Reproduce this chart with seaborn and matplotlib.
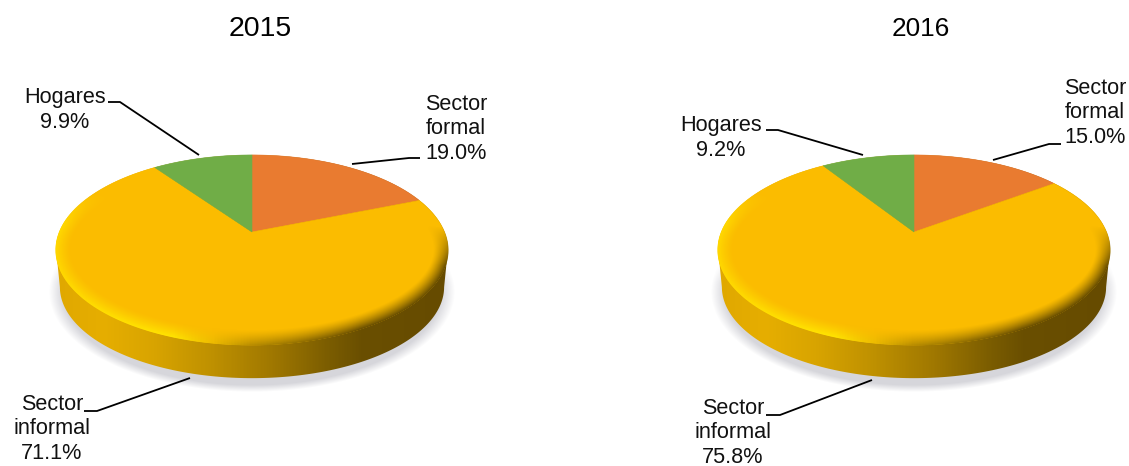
import numpy as np
import matplotlib
matplotlib.use('Agg')
import matplotlib.pyplot as plt
from matplotlib.colors import LinearSegmentedColormap
from matplotlib.patches import Polygon
import seaborn as sns

# --- data ---
years = ['2015', '2016']
categories = ['Sector\nformal', 'Sector\ninformal', 'Hogares']
shares_2015 = [19.0, 71.1, 9.9]
shares_2016 = [15.0, 75.8, 9.2]
slice_colors = ['#E97B30', '#FBBC00', '#70AD47']

# --- layout, in pixels of the 1129x466 picture ---
centers_x = [252, 914]
APEX_Y = 232
RX, RY, TILT = 192.5, 91.6, 0.189
title_spec = [(260, 26, 20.5), (921, 26, 18.8)]
label_pos = [[(456, 129), (52, 429), (65, 110)],
             [(1095, 113), (733, 433), (721, 138)]]
leaders = [[[(420, 158), (409, 158), (352, 164)],
            [(84, 411), (97, 411), (190, 378)],
            [(108, 102), (120, 102), (199, 155)]],
           [[(1061, 144), (1049, 144), (993, 160)],
            [(766, 415), (780, 415), (872, 380)],
            [(766, 130), (778, 130), (863, 155)]]]

sns.set_theme(style='white')
plt.rcParams['font.family'] = ['Liberation Sans', 'DejaVu Sans']

side_cmap = LinearSegmentedColormap.from_list(
    'side', [(0, '#E0A800'), (0.12, '#E6AE00'), (0.25, '#D8A400'), (0.4, '#BE9000'),
             (0.55, '#A07800'), (0.7, '#7A5C00'), (0.78, '#6A4F00'), (1, '#664B00')])
rim_cmap = LinearSegmentedColormap.from_list(
    'rim', [(0, '#FFD800'), (0.15, '#FFE000'), (0.3, '#FFE400'), (0.4, '#EDBB00'),
            (0.5, '#B98E00'), (0.65, '#8C6A00'), (0.78, '#6A4F00'), (1, '#6A4F00')])


def project(u, v):
    w = 1 + TILT * v
    return RX * u / w, -RY * v / w


def wedge_xy(start, stop):
    # angles clockwise from the top, in percent of the pie
    t = np.radians(np.linspace(start, stop, 120) * 3.6)
    x, y = project(np.sin(t), np.cos(t))
    return np.column_stack([np.r_[0, x], np.r_[0, y]])


def draw_pie(ax, cx, values):
    extent = [cx - 215, cx + 215, APEX_Y + 170, APEX_Y - 95]
    gx = np.arange(cx - 215, cx + 215) + 0.5 - cx
    gy = np.arange(APEX_Y - 95, APEX_Y + 170) + 0.5 - APEX_Y
    X, Y = np.meshgrid(gx, gy)

    # pale shadow under the disc
    e = np.hypot(X / 203, (Y - 60) / 100)
    rgba = np.zeros(X.shape + (4,))
    rgba[..., :3] = (0.84, 0.84, 0.86)
    rgba[..., 3] = np.clip((1 - e) / 0.07, 0, 1) * np.clip((Y - 20) / 30, 0, 1)
    ax.imshow(rgba, extent=extent, aspect='auto', interpolation='bilinear', zorder=1)

    # side wall: top outline joined to a slightly smaller lower outline
    t = np.radians(np.linspace(90, 450, 361))
    ox, oy = project(np.sin(t), np.cos(t))
    top = oy < 18
    lx, ly = ox * 0.98, (oy - 18) * 0.96 + 55
    wall_x = np.where(top, ox, lx)
    wall_y = np.where(top, oy, ly)
    wall = Polygon(np.column_stack([wall_x + cx, wall_y + APEX_Y]), closed=True,
                   fc='none', ec='none')
    ax.add_patch(wall)
    nx = np.clip((X + 196) / 392, 0, 1)
    rgba = side_cmap(nx)
    im = ax.imshow(rgba, extent=extent, aspect='auto', interpolation='bilinear', zorder=2)
    im.set_clip_path(wall)

    # slices on the top face, clockwise from twelve o'clock
    stops = np.cumsum([0] + list(values))
    for i, color in enumerate(slice_colors):
        xy = wedge_xy(stops[i], stops[i + 1]) + [cx, APEX_Y]
        ax.add_patch(Polygon(xy, closed=True, fc=color, ec=color, lw=0.4, zorder=3))

    # bevel along the front rim of the top face, wider on the left than the right
    up = -Y
    v = up / (RY - TILT * up)
    u = X * (1 + TILT * v) / RX
    r = np.hypot(u, v)
    dy, dx = np.gradient(r)
    dist = (1 - r) / np.maximum(np.hypot(dx, dy), 1e-6)
    band = np.clip(1 - dist / 15, 0, 1) ** 1.3
    fade_start = 0.5 - 0.45 * nx
    fade = np.clip((fade_start - v) / 0.4, 0, 1)
    rgba = rim_cmap(nx)
    rgba[..., 3] = band * fade * np.clip(dist + 1, 0, 1)
    ax.imshow(rgba, extent=extent, aspect='auto', interpolation='bilinear', zorder=4)


fig = plt.figure(figsize=(11.29, 4.66), dpi=100, facecolor='white')
ax = fig.add_axes([0, 0, 1, 1])

for i, values in enumerate([shares_2015, shares_2016]):
    draw_pie(ax, centers_x[i], values)
    tx, ty, fs = title_spec[i]
    ax.text(tx, ty, years[i], ha='center', va='center_baseline', fontsize=fs,
            color='black', zorder=6)
    for j, name in enumerate(categories):
        lx, ly = label_pos[i][j]
        ax.text(lx, ly, f'{name}\n{values[j]:.1f}%', ha='center', va='center',
                multialignment='center', fontsize=15.6, linespacing=1.22,
                color='#111111', zorder=6)
        path = np.array(leaders[i][j])
        ax.plot(path[:, 0], path[:, 1], color='black', lw=1.3, zorder=5,
                solid_capstyle='butt')

ax.set_xlim(0, 1129)
ax.set_ylim(466, 0)
ax.set_xticks([])
ax.set_yticks([])
sns.despine(ax=ax, left=True, bottom=True)
fig.savefig('out.png', dpi=100, facecolor='white')
